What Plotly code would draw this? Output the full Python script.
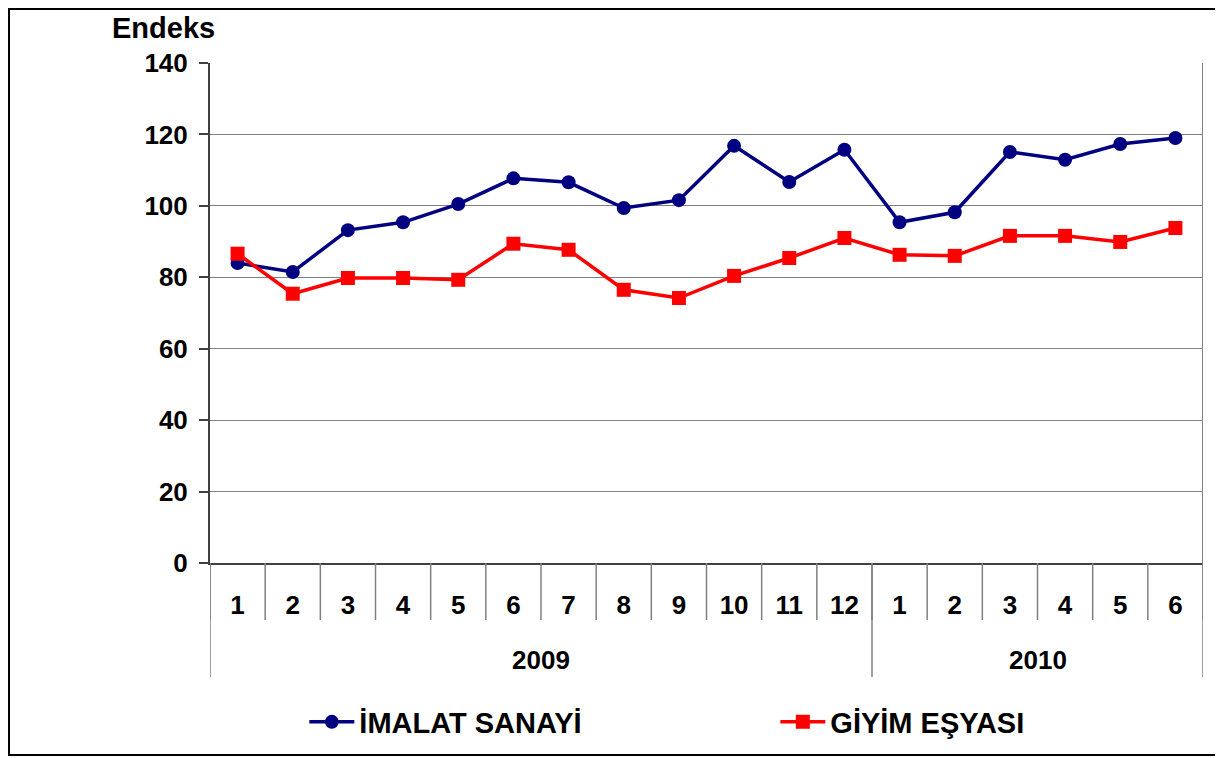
import plotly.graph_objects as go

years = ["2009"] * 12 + ["2010"] * 6
months = ["1", "2", "3", "4", "5", "6", "7", "8", "9", "10", "11", "12",
          "1", "2", "3", "4", "5", "6"]
imalat = [84.0, 81.5, 93.2, 95.4, 100.5, 107.7, 106.6, 99.4, 101.6, 116.8, 106.7, 115.7,
          95.4, 98.2, 115.1, 112.9, 117.3, 119.0]
giyim = [86.6, 75.4, 79.8, 79.8, 79.3, 89.4, 87.7, 76.5, 74.2, 80.4, 85.4, 91.0,
         86.3, 86.0, 91.6, 91.6, 89.9, 93.8]
y_ticks = [0, 20, 40, 60, 80, 100, 120, 140]

FONT = "Liberation Sans, Arial, sans-serif"
n = len(months)
xpos = list(range(n))

fig = go.Figure()
fig.add_trace(go.Scatter(
    x=xpos, y=imalat, name="İMALAT SANAYİ", mode="lines+markers",
    line=dict(color="#000080", width=3.5),
    marker=dict(symbol="circle", size=14, color="#000080"),
))
fig.add_trace(go.Scatter(
    x=xpos, y=giyim, name="GİYİM EŞYASI", mode="lines+markers",
    line=dict(color="#FF0000", width=3.5),
    marker=dict(symbol="square", size=14, color="#FF0000"),
))

# category separators below the axis
shapes = []
for i in range(n + 1):
    b = i - 0.5
    shapes.append(dict(type="line", xref="x", yref="paper", x0=b, x1=b,
                       y0=0, y1=-0.114, line=dict(color="#808080", width=1.5)))
# year dividers
unique_years = []
for yv in years:
    if yv not in unique_years:
        unique_years.append(yv)
bounds = [-0.5]
for yv in unique_years:
    bounds.append(bounds[-1] + years.count(yv))
for b in bounds:
    shapes.append(dict(type="line", xref="x", yref="paper", x0=b, x1=b,
                       y0=-0.228, y1=0, line=dict(color="#808080", width=1.5)))
# right border of plot area
shapes.append(dict(type="line", xref="x", yref="paper", x0=bounds[-1], x1=bounds[-1],
                   y0=0, y1=1, line=dict(color="#808080", width=2)))
# outer frame
shapes.append(dict(type="rect", xref="paper", yref="paper",
                   x0=-0.2024, x1=1.0171, y0=-0.384, y1=1.108,
                   line=dict(color="black", width=2)))

annotations = []
for k, yv in enumerate(unique_years):
    center = (bounds[k] + bounds[k + 1]) / 2
    annotations.append(dict(x=center, y=-0.194, xref="x", yref="paper", text=yv,
                            showarrow=False, font=dict(size=26, color="black", family=FONT, weight="bold"),
                            xanchor="center", yanchor="middle"))
annotations.append(dict(x=-0.047, y=1.07, xref="paper", yref="paper", text="Endeks",
                        showarrow=False, font=dict(size=29, color="black", family=FONT, weight="bold"),
                        xanchor="center", yanchor="middle"))

fig.update_layout(
    width=1215, height=750,
    margin=dict(l=202, r=20, t=55, b=195, autoexpand=False),
    paper_bgcolor="white", plot_bgcolor="white",
    font=dict(family=FONT, size=26, color="black", weight="bold"),
    shapes=shapes, annotations=annotations,
    showlegend=True,
    legend=dict(orientation="h", x=0.095, y=-0.318, xanchor="left", yanchor="middle",
                font=dict(size=29, family=FONT, weight="bold"),
                entrywidth=411, entrywidthmode="pixels", itemwidth=45,
                bgcolor="rgba(0,0,0,0)"),
)
fig.update_xaxes(
    range=[-0.5, n - 0.5], tickmode="array", tickvals=xpos, ticktext=months,
    showgrid=False, zeroline=False, showline=True, linecolor="#404040", linewidth=2,
    ticks="", ticklabelstandoff=18,
    tickfont=dict(size=26, family=FONT, weight="bold", color="black"),
)
fig.update_yaxes(
    range=[0, 140], tickmode="array", tickvals=y_ticks,
    showgrid=True, gridcolor="#808080", gridwidth=1,
    zeroline=False, showline=True, linecolor="#404040", linewidth=2,
    ticks="outside", ticklen=9, tickcolor="#404040", tickwidth=1.5,
    ticklabelstandoff=6,
    tickfont=dict(size=26, family=FONT, weight="bold", color="black"),
)

fig.write_html("out.html")
